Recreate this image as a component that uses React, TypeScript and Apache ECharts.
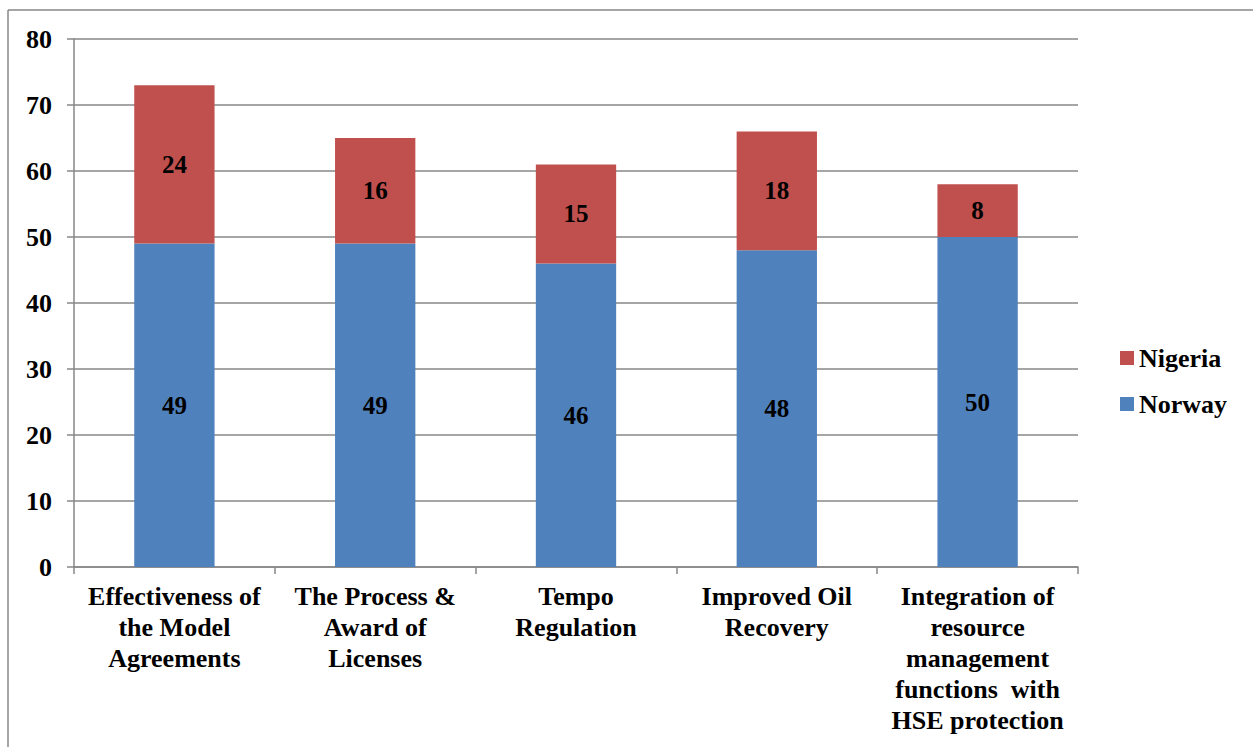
import React, { useEffect, useRef } from "react";
import * as echarts from "echarts";

const categories = [
  "Effectiveness of\nthe Model\nAgreements",
  "The Process &\nAward of\nLicenses",
  "Tempo\nRegulation",
  "Improved Oil\nRecovery",
  "Integration of\nresource\nmanagement\nfunctions  with\nHSE protection",
];
const norway = [49, 49, 46, 48, 50];
const nigeria = [24, 16, 15, 18, 8];
const yTicks = { min: 0, max: 80, interval: 10 };

const FONT = "'Liberation Serif', 'Times New Roman', serif";
const GRAY = "#878787";

export default function App() {
  const ref = useRef<HTMLDivElement>(null);

  useEffect(() => {
    if (!ref.current) return;
    const chart = echarts.init(ref.current, null, { renderer: "svg" });
    const labelStyle = {
      show: true,
      position: "inside" as const,
      color: "#000",
      fontFamily: FONT,
      fontWeight: "bold" as const,
      fontSize: 25,
    };
    chart.setOption({
      animation: false,
      backgroundColor: "#fff",
      textStyle: { fontFamily: FONT },
      grid: { left: 74, right: 175, top: 39, bottom: 180 },
      graphic: [
        { type: "line", shape: { x1: 8, y1: 10, x2: 1253, y2: 10 }, style: { stroke: GRAY, lineWidth: 1.5 } },
        { type: "line", shape: { x1: 8, y1: 10, x2: 8, y2: 747 }, style: { stroke: GRAY, lineWidth: 1.5 } },
      ],
      legend: {
        orient: "vertical",
        left: 1120,
        top: 344,
        padding: 0,
        itemWidth: 14,
        itemHeight: 14,
        itemGap: 18,
        itemTextGap: 4,
        icon: "rect",
        data: ["Nigeria", "Norway"],
        textStyle: { fontFamily: FONT, fontWeight: "bold", fontSize: 26, color: "#000", lineHeight: 28 },
      },
      xAxis: {
        type: "category",
        data: categories,
        axisLine: { lineStyle: { color: GRAY, width: 1.5 } },
        axisTick: { show: true, length: 7, lineStyle: { color: GRAY, width: 1.5 } },
        axisLabel: {
          interval: 0,
          margin: 14,
          color: "#000",
          fontFamily: FONT,
          fontWeight: "bold",
          fontSize: 26,
          lineHeight: 31,
        },
      },
      yAxis: {
        type: "value",
        min: yTicks.min,
        max: yTicks.max,
        interval: yTicks.interval,
        axisLine: { show: true, lineStyle: { color: GRAY, width: 1.5 } },
        axisTick: { show: true, length: 7, lineStyle: { color: GRAY, width: 1.5 } },
        splitLine: { show: true, lineStyle: { color: GRAY, width: 1.5 } },
        axisLabel: {
          margin: 22,
          color: "#000",
          fontFamily: FONT,
          fontWeight: "bold",
          fontSize: 26,
        },
      },
      series: [
        {
          name: "Norway",
          type: "bar",
          stack: "total",
          barWidth: "40%",
          data: norway,
          itemStyle: { color: "#4F81BD" },
          label: labelStyle,
        },
        {
          name: "Nigeria",
          type: "bar",
          stack: "total",
          barWidth: "40%",
          data: nigeria,
          itemStyle: { color: "#C0504D" },
          label: labelStyle,
        },
      ],
    });
    return () => chart.dispose();
  }, []);

  return (
    <div
      ref={ref}
      style={{ position: "fixed", left: 0, top: 0, width: 1253, height: 747 }}
    />
  );
}
